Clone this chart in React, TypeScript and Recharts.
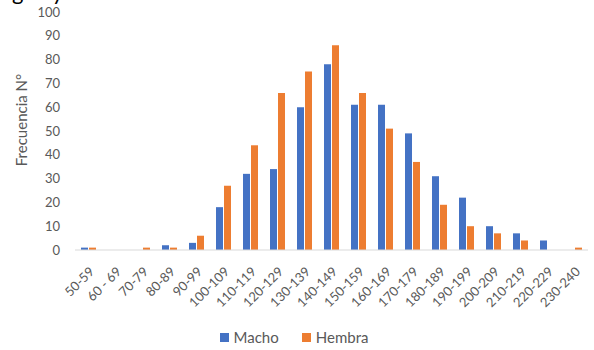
import { Bar, BarChart, Label, Legend, XAxis, YAxis } from 'recharts';

const categories = [
  '50-59', '60 - 69', '70-79', '80-89', '90-99', '100-109', '110-119', '120-129', '130-139', '140-149',
  '150-159', '160-169', '170-179', '180-189', '190-199', '200-209', '210-219', '220-229', '230-240',
];
const macho = [1, 0, 0, 2, 3, 18, 32, 34, 60, 78, 61, 61, 49, 31, 22, 10, 7, 4, 0];
const hembra = [1, 0, 1, 1, 6, 27, 44, 66, 75, 86, 66, 51, 37, 19, 10, 7, 4, 0, 1];
const yTicks = [0, 10, 20, 30, 40, 50, 60, 70, 80, 90, 100];
const seriesOrder = ['Macho', 'Hembra'];

const data = categories.map((range, i) => ({ range, macho: macho[i], hembra: hembra[i] }));

const FONT = 'Lato, "Open Sans", sans-serif';
const GRAY = '#595959';

function LegendContent({ payload }: { payload?: Array<{ value: string; color: string }> }) {
  const items = [...(payload ?? [])].sort((a, b) => seriesOrder.indexOf(a.value) - seriesOrder.indexOf(b.value));
  return (
    <div style={{ display: 'flex', justifyContent: 'center', alignItems: 'center', height: 26, gap: 23 }}>
      {items.map(item => (
        <div key={item.value} style={{ display: 'flex', alignItems: 'center' }}>
          <span style={{ width: 9, height: 9, background: item.color, marginRight: 5, display: 'inline-block' }} />
          <span style={{ fontFamily: FONT, fontSize: 15, color: GRAY }}>{item.value}</span>
        </div>
      ))}
    </div>
  );
}

export default function App() {
  return (
    <div style={{ position: 'absolute', left: 0, top: 0, width: 594, height: 350, background: '#fff', overflow: 'hidden' }}>
      {/* cut-off title above the chart */}
      <span style={{ position: 'absolute', left: 12, top: -22, fontFamily: FONT, fontSize: 22, color: '#000' }}>g</span>
      <span style={{ position: 'absolute', left: 52, top: -22, fontFamily: FONT, fontSize: 22, color: '#000' }}>y</span>
      <BarChart
        width={594}
        height={350}
        data={data}
        margin={{ top: 12, right: 6, left: 0, bottom: 0 }}
        barSize={7}
        barGap={1}
      >
        <XAxis
          dataKey='range'
          interval={0}
          height={74}
          tickLine={false}
          tickSize={0}
          tickMargin={16}
          angle={-45}
          textAnchor='end'
          stroke='#d9d9d9'
          tick={{ fill: GRAY, fontSize: 13, fontFamily: FONT }}
        />
        <YAxis
          width={75}
          domain={[0, 100]}
          ticks={yTicks}
          axisLine={false}
          tickLine={false}
          tickSize={0}
          tickMargin={15}
          tick={{ fill: GRAY, fontSize: 13, fontFamily: FONT }}
        >
          <Label
            content={({ viewBox }: any) => {
              const x = (viewBox?.x ?? 0) + 27;
              const y = (viewBox?.y ?? 0) + (viewBox?.height ?? 0) / 2 - 11;
              return (
                <text
                  x={x}
                  y={y}
                  transform={`rotate(-90 ${x} ${y})`}
                  textAnchor='middle'
                  fill={GRAY}
                  fontSize={15}
                  fontFamily={FONT}
                >
                  Frecuencia N°
                </text>
              );
            }}
          />
        </YAxis>
        <Legend verticalAlign='bottom' content={<LegendContent />} />
        <Bar dataKey='macho' name='Macho' fill='#4472c4' isAnimationActive={false} />
        <Bar dataKey='hembra' name='Hembra' fill='#ed7d31' isAnimationActive={false} />
      </BarChart>
    </div>
  );
}
